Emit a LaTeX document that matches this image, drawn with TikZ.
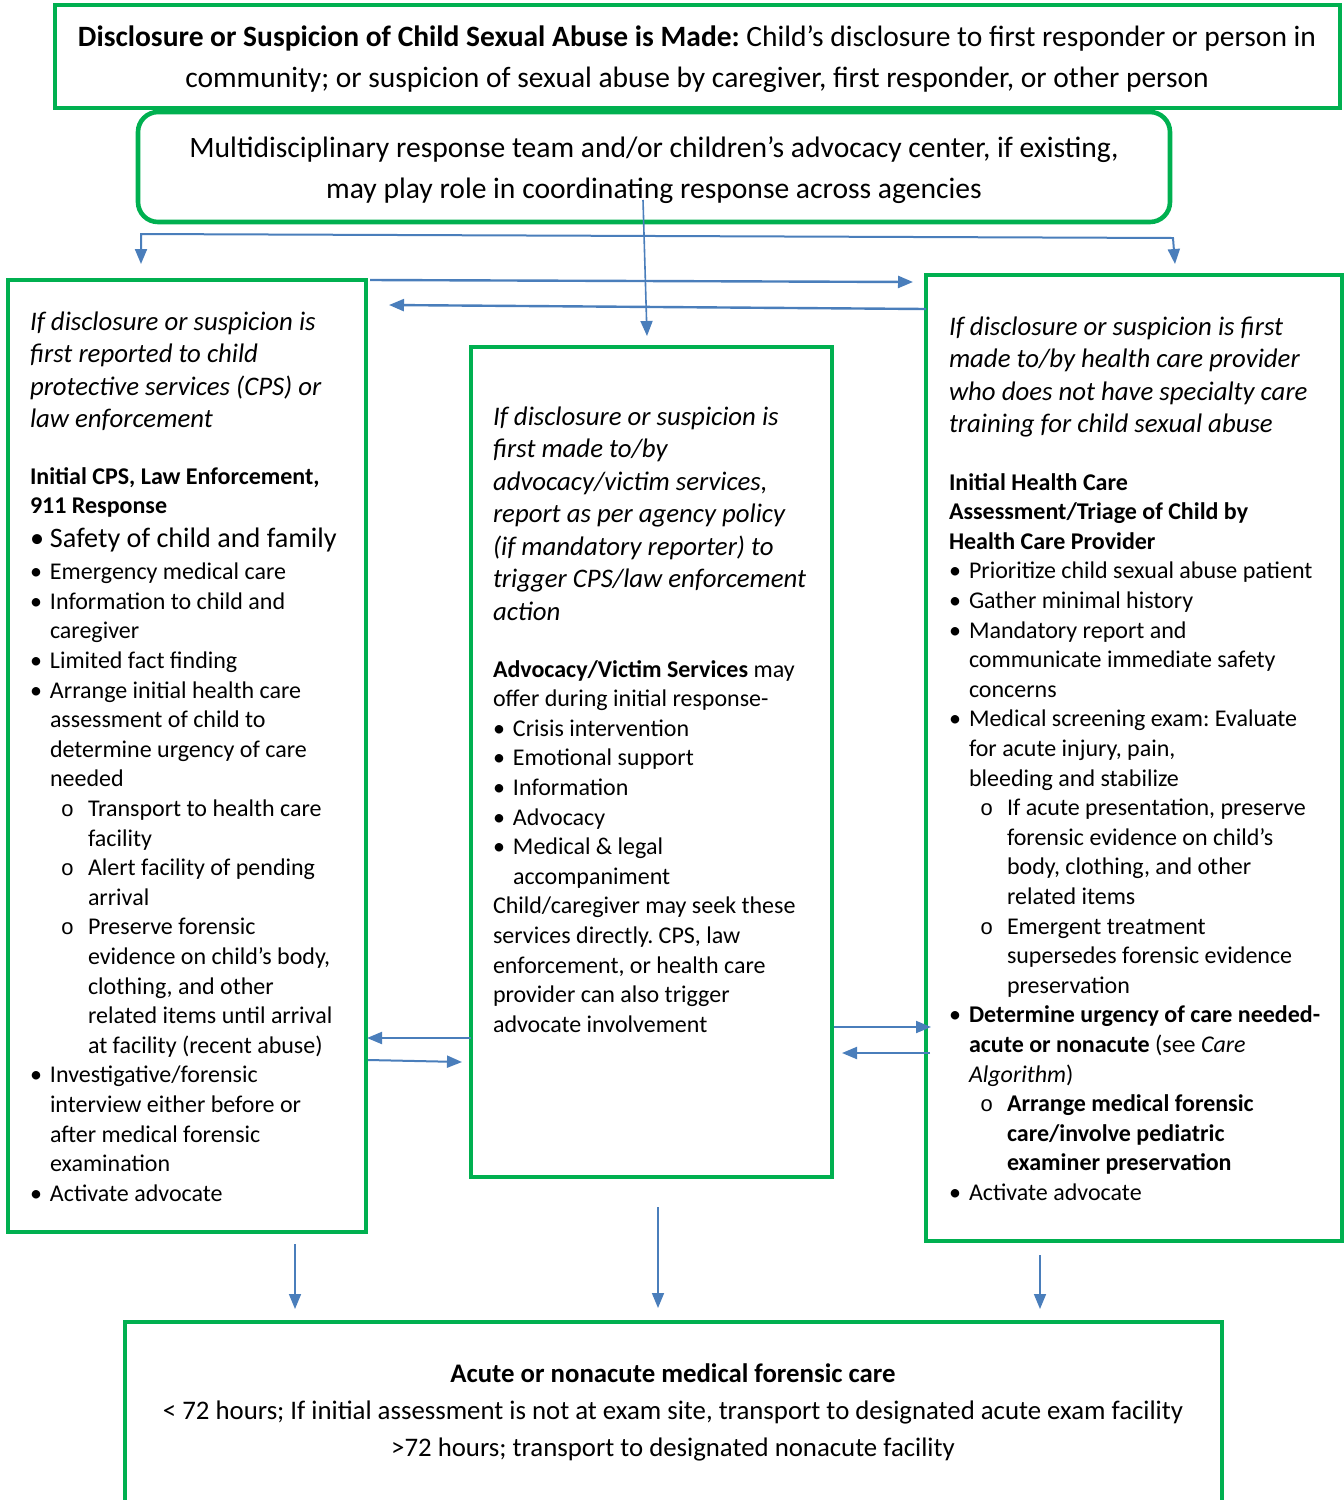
\documentclass[tikz,border=0pt]{standalone}
\usepackage{fontspec}
\setmainfont{Carlito}
\newfontfamily\subbulfont{Liberation Mono}
\usetikzlibrary{arrows.meta}
\frenchspacing
\definecolor{boxgreen}{HTML}{00B050}
\definecolor{arrblue}{HTML}{4A7EBB}
\tikzset{
  gbox/.style={draw=boxgreen, line width=2.3pt, inner sep=0pt, fill=none},
  conn/.style={draw=arrblue, line width=1pt, -{Triangle[length=7.5pt,width=6pt]}},
  connboth/.style={draw=arrblue, line width=1pt, {Triangle[length=7.5pt,width=6pt]}-{Triangle[length=7.5pt,width=6pt]}},
  txt/.style={anchor=base west, inner sep=0pt, outer sep=0pt},
  ctxt/.style={anchor=base, inner sep=0pt, outer sep=0pt},
}
\newcommand{\bodyfont}{\fontsize{12}{14.8}\selectfont}
\newcommand{\titlefont}{\fontsize{13.4}{16.25}\selectfont\itshape}
\newcommand{\bl}[1]{\makebox[10pt][l]{\textbullet}#1}
\newcommand{\cl}[1]{\hspace*{10pt}#1}
\newcommand{\sbl}[1]{\hspace*{15.5pt}\makebox[13.5pt][l]{{\subbulfont\fontsize{11}{10}\selectfont o}}#1}
\newcommand{\scl}[1]{\hspace*{29pt}#1}
\begin{document}
\begin{tikzpicture}[x=0.5pt,y=-0.5pt]
\useasboundingbox (0,0) rectangle (1344,1500);
\fill[white] (0,0) rectangle (1344,1500);

% ---------- boxes ----------
\node[gbox, minimum width=642.5pt, minimum height=51.5pt] (topbox) at (697.5,56.5) {};
\node[gbox, rounded corners=10pt, minimum width=516pt, minimum height=55pt] (mdtbox) at (654,167) {};
\node[gbox, minimum width=179pt, minimum height=476pt] (leftbox) at (187,756) {};
\node[gbox, minimum width=180.5pt, minimum height=415pt] (midbox) at (651.5,762) {};
\node[gbox, minimum width=208pt, minimum height=483pt] (rightbox) at (1134,758) {};
\node[gbox, minimum width=548.5pt, minimum height=94pt] (botbox) at (673.5,1416) {};

% ---------- top texts ----------
\node[ctxt] (toptext) at (697,46) {\begin{minipage}[t]{660pt}\centering\fontsize{14.75}{20.5}\selectfont
\textbf{Disclosure or Suspicion of Child Sexual Abuse is Made:} Child’s disclosure to first responder or person in\\
community; or suspicion of sexual abuse by caregiver, first responder, or other person\end{minipage}};

\node[ctxt] (mdttext) at (654,157) {\begin{minipage}[t]{600pt}\centering\fontsize{14.8}{20.5}\selectfont
Multidisciplinary response team and/or children’s advocacy center, if existing,\\
may play role in coordinating response across agencies\end{minipage}};

% ---------- left box ----------
\node[txt] (lefttitle) at (30,330) {\begin{minipage}[t]{200pt}\titlefont\raggedright
If disclosure or suspicion is\\
first reported to child\\
protective services (CPS) or\\
law enforcement\end{minipage}};

\node[txt] (leftbody) at (30,484) {\begin{minipage}[t]{220pt}\bodyfont\raggedright
\textbf{Initial CPS, Law Enforcement,}\\
\textbf{911 Response}\\[2.2pt]
{\fontsize{14.1}{14.8}\selectfont\bl{Safety of child and family}}\\[1.2pt]
\bl{Emergency medical care}\\
\bl{Information to child and}\\
\cl{caregiver}\\
\bl{Limited fact finding}\\
\bl{Arrange initial health care}\\
\cl{assessment of child to}\\
\cl{determine urgency of care}\\
\cl{needed}\\
\sbl{Transport to health care}\\
\scl{facility}\\
\sbl{Alert facility of pending}\\
\scl{arrival}\\
\sbl{Preserve forensic}\\
\scl{evidence on child’s body,}\\
\scl{clothing, and other}\\
\scl{related items until arrival}\\
\scl{at facility (recent abuse)}\\
\bl{Investigative/forensic}\\
\cl{interview either before or}\\
\cl{after medical forensic}\\
\cl{examination}\\
\bl{Activate advocate}\end{minipage}};

% ---------- middle box ----------
\node[txt] (midtitle) at (493,425) {\begin{minipage}[t]{200pt}\titlefont\raggedright
If disclosure or suspicion is\\
first made to/by\\
advocacy/victim services,\\
report as per agency policy\\
(if mandatory reporter) to\\
trigger CPS/law enforcement\\
action\end{minipage}};

\node[txt] (midbody) at (493,677) {\begin{minipage}[t]{220pt}\bodyfont\raggedright
\textbf{Advocacy/Victim Services} may\\
offer during initial response-\\
\bl{Crisis intervention}\\
\bl{Emotional support}\\
\bl{Information}\\
\bl{Advocacy}\\
\bl{Medical \& legal}\\
\cl{accompaniment}\\
Child/caregiver may seek these\\
services directly. CPS, law\\
enforcement, or health care\\
provider can also trigger\\
advocate involvement\end{minipage}};

% ---------- right box ----------
\node[txt] (righttitle) at (949,335) {\begin{minipage}[t]{220pt}\titlefont\raggedright
If disclosure or suspicion is first\\
made to/by health care provider\\
who does not have specialty care\\
training for child sexual abuse\end{minipage}};

\node[txt] (rightbody) at (949,490) {\begin{minipage}[t]{240pt}\bodyfont\raggedright
\textbf{Initial Health Care}\\
\textbf{Assessment/Triage of Child by}\\
\textbf{Health Care Provider}\\
\bl{Prioritize child sexual abuse patient}\\
\bl{Gather minimal history}\\
\bl{Mandatory report and}\\
\cl{communicate immediate safety}\\
\cl{concerns}\\
\bl{Medical screening exam: Evaluate}\\
\cl{for acute injury, pain,}\\
\cl{bleeding and stabilize}\\
\sbl{If acute presentation, preserve}\\
\scl{forensic evidence on child’s}\\
\scl{body, clothing, and other}\\
\scl{related items}\\
\sbl{Emergent treatment}\\
\scl{supersedes forensic evidence}\\
\scl{preservation}\\
\bl{\textbf{Determine urgency of care needed-}}\\
\cl{\textbf{acute or nonacute} (see \textit{Care}}\\
\cl{\textit{Algorithm})}\\
\sbl{\textbf{Arrange medical forensic}}\\
\scl{\textbf{care/involve pediatric}}\\
\scl{\textbf{examiner preservation}}\\
\bl{Activate advocate}\end{minipage}};

% ---------- bottom box ----------
\node[ctxt] (bottext) at (673,1382) {\begin{minipage}[t]{620pt}\centering\fontsize{13.4}{18.5}\selectfont
\textbf{Acute or nonacute medical forensic care}\\
< 72 hours; If initial assessment is not at exam site, transport to designated acute exam facility\\
>72 hours; transport to designated nonacute facility\end{minipage}};

% ---------- connector coordinates ----------
\coordinate (c1a) at (141,264);
\coordinate (c1b) at (141,234);
\coordinate (c1c) at (1173,238);
\coordinate (c1d) at (1175,264);
\coordinate (c2a) at (643,200);
\coordinate (c2b) at (647,336);
\coordinate (c3a) at (370,280);
\coordinate (c3b) at (913,282);
\coordinate (c4a) at (926,309);
\coordinate (c4b) at (389,305);
\coordinate (c5a) at (471,1038);
\coordinate (c5b) at (367,1038);
\coordinate (c6a) at (368,1060);
\coordinate (c6b) at (462,1062);
\coordinate (c7a) at (834,1027);
\coordinate (c7b) at (931,1027);
\coordinate (c8a) at (930,1053);
\coordinate (c8b) at (842,1053);
\coordinate (c9a) at (295,1244);
\coordinate (c9b) at (295,1309);
\coordinate (c10a) at (658,1207);
\coordinate (c10b) at (658,1308);
\coordinate (c11a) at (1040,1255);
\coordinate (c11b) at (1040,1309);

% ---------- connectors ----------
\draw[connboth] (c1a) -- (c1b) -- (c1c) -- (c1d);
\draw[conn, line width=0.8pt] (c2a) -- (c2b);
\draw[conn, line width=1.2pt] (c3a) -- (c3b);
\draw[conn, line width=1.2pt] (c4a) -- (c4b);
\draw[conn] (c5a) -- (c5b);
\draw[conn] (c6a) -- (c6b);
\draw[conn] (c7a) -- (c7b);
\draw[conn] (c8a) -- (c8b);
\draw[conn, line width=0.8pt] (c9a) -- (c9b);
\draw[conn, line width=0.8pt] (c10a) -- (c10b);
\draw[conn, line width=0.8pt] (c11a) -- (c11b);
\end{tikzpicture}
\end{document}
